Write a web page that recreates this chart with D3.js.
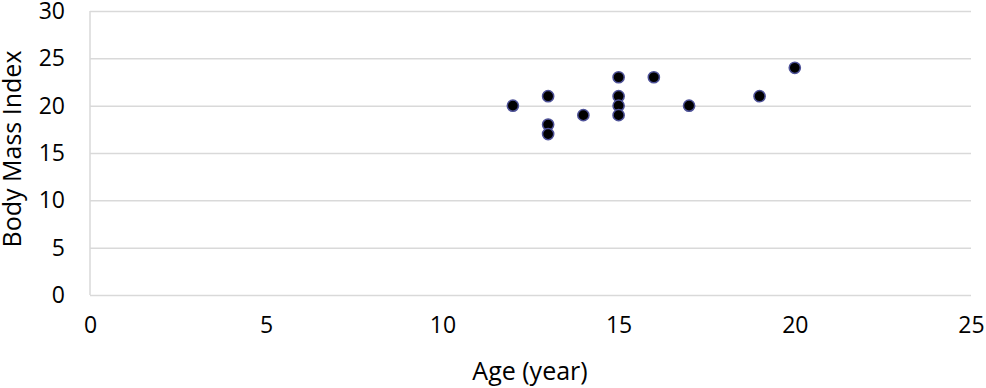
<!DOCTYPE html>
<html>
<head>
<meta charset="utf-8">
<script src="https://cdn.jsdelivr.net/npm/d3@7"></script>
<style>
  body { margin: 0; background: #fff; }
  text { font-family: "Open Sans", "Noto Sans", sans-serif; fill: #000; }
</style>
</head>
<body>
<svg width="986" height="388"></svg>
<script>
const ages = [12, 13, 13, 13, 14, 15, 15, 15, 15, 16, 17, 19, 20];
const bmi  = [20, 21, 18, 17, 19, 23, 21, 20, 19, 23, 20, 21, 24];
const xTicks = [0, 5, 10, 15, 20, 25];
const yTicks = [0, 5, 10, 15, 20, 25, 30];

const svg = d3.select('svg');
const width = +svg.attr('width');
const height = +svg.attr('height');
const margin = {top: 11, right: 15, bottom: 93, left: 90};
const innerWidth = width - margin.left - margin.right;
const innerHeight = height - margin.top - margin.bottom;

const data = ages.map((a, i) => ({age: a, bmi: bmi[i]}));

const xScale = d3.scaleLinear().domain([0, 25]).range([0, innerWidth]);
const yScale = d3.scaleLinear().domain([0, 30]).range([innerHeight, 0]);

const g = svg.append('g')
  .attr('transform', `translate(${margin.left},${margin.top})`);

// gridlines + y labels
const yAxisG = g.append('g')
  .call(d3.axisLeft(yScale).tickValues(yTicks).tickSize(-innerWidth).tickPadding(25));
yAxisG.select('.domain').remove();
yAxisG.selectAll('.tick line').attr('stroke', '#d9d9d9').attr('stroke-width', 1.5);
yAxisG.selectAll('.tick text').attr('font-size', 23);

// left axis line
g.append('line')
  .attr('x1', 0).attr('x2', 0)
  .attr('y1', 0).attr('y2', innerHeight)
  .attr('stroke', '#d9d9d9').attr('stroke-width', 1.5);

// x labels
const xAxisG = g.append('g')
  .attr('transform', `translate(0,${innerHeight})`)
  .call(d3.axisBottom(xScale).tickValues(xTicks).tickSize(0).tickPadding(22));
xAxisG.select('.domain').remove();
xAxisG.selectAll('.tick text').attr('font-size', 23);

// points
g.selectAll('circle').data(data)
  .enter().append('circle')
    .attr('cx', d => xScale(d.age))
    .attr('cy', d => yScale(d.bmi))
    .attr('r', 5.6)
    .attr('fill', '#000')
    .attr('stroke', '#4e5298')
    .attr('stroke-width', 1.5);

// axis titles
svg.append('text')
  .attr('x', 530)
  .attr('y', 380)
  .attr('text-anchor', 'middle')
  .attr('font-size', 25)
  .text('Age (year)');

svg.append('text')
  .attr('transform', `translate(21,149) rotate(-90)`)
  .attr('text-anchor', 'middle')
  .attr('font-size', 25)
  .text('Body Mass Index');
</script>
</body>
</html>
